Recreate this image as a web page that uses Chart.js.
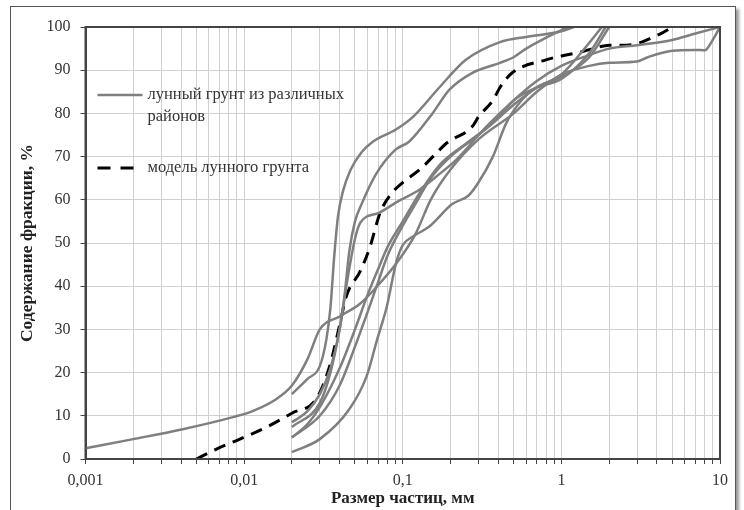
<!DOCTYPE html>
<html>
<head>
<meta charset="utf-8">
<script src="https://cdn.jsdelivr.net/npm/chart.js@4"></script>
<style>
  body { margin: 0; background: #fff; }
  #frame {
    position: absolute; left: 10px; top: 6px; width: 724px; height: 520px;
    border: 1px solid #555; box-shadow: 3px 3px 3px #999; background: #fff;
  }
  #wrap { position: absolute; left: 0; top: 0; width: 744px; height: 510px; }
</style>
</head>
<body>
<div id="frame"></div>
<div id="wrap"><canvas id="c" width="744" height="510"></canvas></div>
<script>
// particle size, mm  /  content of fraction, %
var soilA_x = [0.001, 0.002, 0.0041, 0.0085, 0.0113, 0.016, 0.02, 0.025, 0.03, 0.04, 0.054, 0.069, 0.092, 0.12, 0.15, 0.2, 0.3, 0.5, 0.7, 1, 1.5, 2, 3, 3.5, 5, 7, 8, 9, 10];
var soilA_y = [2.5, 4.6, 6.9, 9.7, 11.1, 13.9, 17, 23, 30, 33, 36, 40, 45.5, 52, 60, 67, 74, 80, 85, 89, 91, 91.7, 92, 93, 94.5, 94.7, 94.6, 97, 100];

var soilB_x = [0.02, 0.025, 0.03, 0.033, 0.035, 0.037, 0.039, 0.042, 0.047, 0.055, 0.065, 0.09, 0.116, 0.17, 0.25, 0.41, 0.6, 1, 1.2];
var soilB_y = [15, 18.5, 21.5, 27.7, 35, 47, 56, 62, 67, 71, 73.5, 76.2, 79.2, 86, 92.4, 96.5, 97.7, 99, 100];

var soilC_x = [0.02, 0.025, 0.03, 0.035, 0.04, 0.043, 0.046, 0.05, 0.055, 0.068, 0.09, 0.11, 0.154, 0.197, 0.275, 0.41, 0.5, 0.6, 1, 1.1];
var soilC_y = [8.5, 11, 15, 21, 30, 38, 48, 55, 59, 66, 71.6, 73.5, 80, 85.5, 89.4, 91.7, 93, 95, 99.3, 100];

var soilD_x = [0.02, 0.03, 0.035, 0.04, 0.045, 0.05, 0.054, 0.071, 0.091, 0.128, 0.163, 0.218, 0.25, 0.3, 0.5, 0.7, 1, 1.5, 2, 3, 5, 7, 10];
var soilD_y = [7.4, 13, 20, 30, 42, 51, 54.7, 57, 59.4, 62.4, 65.4, 69.3, 71.6, 75, 83, 87.5, 91, 93.5, 95, 95.8, 97, 98.5, 100];

var soilE_x = [0.02, 0.03, 0.04, 0.05, 0.06, 0.07, 0.08, 0.1, 0.12, 0.15, 0.2, 0.3, 0.4, 0.5, 0.7, 1, 1.5, 1.9];
var soilE_y = [5, 10, 17, 26, 34, 41, 47, 54, 59, 65, 70, 75, 79, 83, 86, 88, 94, 100];

var soilF_x = [0.02, 0.025, 0.03, 0.04, 0.05, 0.06, 0.07, 0.08, 0.1, 0.13, 0.17, 0.25, 0.35, 0.5, 0.7, 1, 1.4, 1.8];
var soilF_y = [5, 8, 12, 21, 30, 38, 44, 49, 55, 62, 68, 73, 77, 82, 86, 89, 95, 100];

var soilG_x = [0.02, 0.03, 0.046, 0.059, 0.069, 0.079, 0.091, 0.1, 0.116, 0.147, 0.205, 0.26, 0.3, 0.37, 0.45, 0.56, 0.7, 1, 1.5, 2];
var soilG_y = [1.6, 4.6, 11.5, 19, 27.7, 35, 45.5, 49.5, 51.5, 53.8, 59, 61, 64, 70, 77.8, 83, 86, 88.5, 93, 100];

var model_x = [0.005, 0.0067, 0.0094, 0.0139, 0.02, 0.0285, 0.0346, 0.04, 0.044, 0.054, 0.062, 0.072, 0.083, 0.1, 0.128, 0.17, 0.19, 0.275, 0.3, 0.37, 0.41, 0.49, 0.8, 1.07, 1.33, 1.65, 2, 2.6, 3.1, 3.7, 4.3, 5];
var model_y = [0, 2.3, 4.6, 7.4, 10.6, 13.9, 21.5, 31, 37.6, 43.5, 49, 57, 61, 64, 67, 71.5, 73.2, 77, 79.2, 83, 86, 89.4, 92.4, 93.5, 94.2, 95.2, 95.8, 95.8, 96.3, 97.5, 98.6, 100];

var soilSeries = [[soilA_x, soilA_y], [soilB_x, soilB_y], [soilC_x, soilC_y], [soilD_x, soilD_y],
                  [soilE_x, soilE_y], [soilF_x, soilF_y], [soilG_x, soilG_y]];

var xDecades = [0.001, 0.01, 0.1, 1, 10];
var legendSoil = ['лунный грунт из различных', 'районов'];
var legendModel = 'модель лунного грунта';

function toPoints(xs, ys) {
  return xs.map(function(x, i) { return {x: x, y: ys[i]}; });
}

var grey = '#7f7f7f';
var datasets = soilSeries.map(function(s) {
  return {
    data: toPoints(s[0], s[1]),
    borderColor: grey,
    borderWidth: 2.5,
    pointRadius: 0,
    fill: false,
    cubicInterpolationMode: 'monotone'
  };
});
datasets.push({
  data: toPoints(model_x, model_y),
  borderColor: '#000',
  borderWidth: 3,
  borderDash: [12, 8],
  pointRadius: 0,
  fill: false,
  cubicInterpolationMode: 'monotone'
});

var serif = '"Liberation Serif", "Times New Roman", serif';

var legendPlugin = {
  id: 'legendInside',
  afterDatasetsDraw: function(chart) {
    var ctx = chart.ctx;
    var a = chart.chartArea;
    var x0 = a.left + 12, x1 = a.left + 57, tx = a.left + 62;
    ctx.save();
    ctx.font = '16.5px ' + serif;
    ctx.textBaseline = 'middle';
    ctx.strokeStyle = grey;
    ctx.lineWidth = 2.5;
    ctx.beginPath(); ctx.moveTo(x0, a.top + 68); ctx.lineTo(x1, a.top + 68); ctx.stroke();
    ctx.fillStyle = '#333';
    ctx.fillText(legendSoil[0], tx, a.top + 68);
    ctx.fillText(legendSoil[1], tx, a.top + 90);
    ctx.strokeStyle = '#000';
    ctx.lineWidth = 3;
    ctx.setLineDash([13, 10]);
    ctx.beginPath(); ctx.moveTo(x0, a.top + 141); ctx.lineTo(x1, a.top + 141); ctx.stroke();
    ctx.setLineDash([]);
    ctx.fillText(legendModel, tx, a.top + 141);
    // plot frame
    ctx.strokeStyle = '#444';
    ctx.lineWidth = 2;
    ctx.strokeRect(a.left, a.top, a.right - a.left, a.bottom - a.top);
    ctx.restore();
  }
};

new Chart(document.getElementById('c').getContext('2d'), {
  type: 'line',
  data: { datasets: datasets },
  options: {
    responsive: false,
    animation: false,
    layout: { padding: { left: 19, top: 27, right: 24, bottom: 3 } },
    plugins: { legend: { display: false }, tooltip: { enabled: false } },
    scales: {
      x: {
        type: 'logarithmic',
        min: 0.001,
        max: 10,
        afterBuildTicks: function(scale) {
          var t = [];
          xDecades.forEach(function(d, i) {
            if (i === xDecades.length - 1) { t.push({value: d}); return; }
            for (var m = 1; m < 10; m++) t.push({value: +(d * m).toPrecision(3)});
          });
          scale.ticks = t;
        },
        ticks: {
          autoSkip: false,
          maxRotation: 0,
          padding: 9,
          color: '#333',
          font: { family: serif, size: 16, lineHeight: 1 },
          callback: function(v) {
            if (xDecades.indexOf(v) >= 0) return String(v).replace('.', ',');
            return '';
          }
        },
        grid: { color: '#d0d0d0', borderDash: [2, 2], tickColor: '#444', tickLength: 5, tickBorderDash: [] },
        border: { color: '#444', width: 2 },
        title: { display: true, text: 'Размер частиц, мм', color: '#222', font: { family: serif, size: 17, weight: 'bold', lineHeight: 1 }, padding: { top: -8, bottom: 0 } }
      },
      y: {
        min: 0,
        max: 100,
        ticks: { stepSize: 10, padding: 10, color: '#333', font: { family: serif, size: 16 } },
        grid: { color: '#d0d0d0', borderDash: [2, 2], tickColor: '#444', tickLength: 5, tickBorderDash: [] },
        border: { color: '#444', width: 2 },
        title: { display: true, text: 'Содержание фракции, %', color: '#222', font: { family: serif, size: 17.5, weight: 'bold', lineHeight: 1 }, padding: { top: 0, bottom: 0 } }
      }
    }
  },
  plugins: [legendPlugin]
});
</script>
</body>
</html>
